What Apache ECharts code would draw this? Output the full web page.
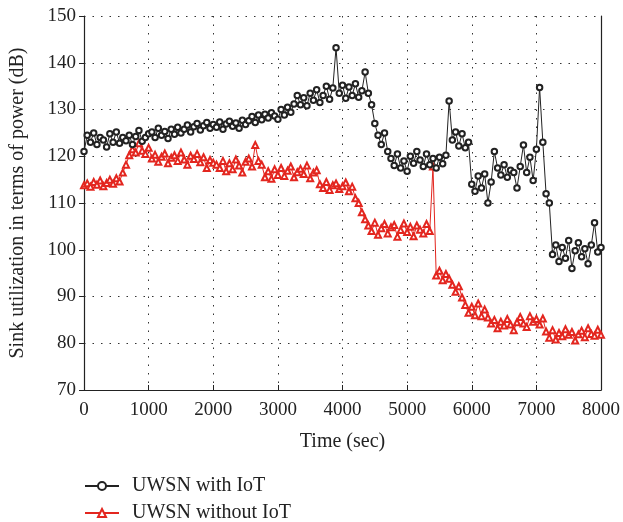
<!DOCTYPE html>
<html>
<head>
<meta charset="utf-8">
<script src="https://cdn.jsdelivr.net/npm/echarts@6/dist/echarts.min.js"></script>
<style>html,body{margin:0;padding:0;background:#fff}#c{width:623px;height:522px}</style>
</head>
<body>
<div id="c"></div>
<script>
// Sampling times (sec)
var timeSec = [0,50,100,150,200,250,300,350,400,450,500,550,600,650,700,750,800,850,900,950,
1000,1050,1100,1150,1200,1250,1300,1350,1400,1450,1500,1550,1600,1650,1700,1750,1800,1850,1900,1950,
2000,2050,2100,2150,2200,2250,2300,2350,2400,2450,2500,2550,2600,2650,2700,2750,2800,2850,2900,2950,
3000,3050,3100,3150,3200,3250,3300,3350,3400,3450,3500,3550,3600,3650,3700,3750,3800,3850,3900,3950,
4000,4050,4100,4150,4200,4250,4300,4350,4400,4450,4500,4550,4600,4650,4700,4750,4800,4850,4900,4950,
5000,5050,5100,5150,5200,5250,5300,5350,5400,5450,5500,5550,5600,5650,5700,5750,5800,5850,5900,5950,
6000,6050,6100,6150,6200,6250,6300,6350,6400,6450,6500,6550,6600,6650,6700,6750,6800,6850,6900,6950,
7000,7050,7100,7150,7200,7250,7300,7350,7400,7450,7500,7550,7600,7650,7700,7750,7800,7850,7900,7950,8000];

// UWSN with IoT (dB)
var withIoT = [121,124.5,123,125,122.5,124,123.5,122,124.8,123,125.2,122.8,124,123.3,
124.5,122.5,124.2,125.5,123.2,124,124.8,
125.2,124,126,124.5,125.3,123.8,125.8,124.7,126.2,125,
125.8,126.7,125.2,126.3,127,125.6,126.5,127.2,126,126.8,
126.2,127.3,125.8,126.9,127.5,126.4,127.1,126,127.7,126.8,
127.6,128.5,127.2,128.8,127.8,129,128.2,129.3,128.6,127.9,
130,128.8,130.5,129.4,131.2,133,
131,132.5,130.8,133.5,132,134.2,131.5,133,135,132.2,134.6,
143.2,
133.5,135.2,132.4,134.8,133,135.5,132.6,134,
138,
133.5,131,
127,124.5,122.5,125,
121,119.5,118,120.5,117.5,119,116.8,
120,118.5,121,119.2,117.8,120.5,118.2,119.5,
117.5,119.8,118.4,120.2,
131.8,
123.5,125.2,122.2,124.8,121.8,123,
114,112.5,115.8,113.2,116.2,110,114.5,
121,
117.5,116,118.2,115.5,117,116.5,113.2,117.8,
122.4,
116.5,119.8,114.8,121.5,
134.7,
123,
112,110,
99,
101,97.5,100.5,98.2,102,96,99.8,101.5,98.5,100.2,97,101,105.8,99.5,100.5];

// UWSN without IoT (dB)
var withoutIoT = [113.8,114.2,113.5,114.5,113.9,114.8,113.6,114.3,115,114.1,115.3,114.6,
116.5,118.2,
120.2,121.5,120.8,122.8,121.2,120.5,121.8,
119.5,120.3,118.8,119.9,120.6,118.5,119.7,120.2,119,120.8,119.3,118.2,120.1,119.4,120.5,118.7,119.8,117.5,119.2,118.6,
118.2,117.5,119,116.8,118.5,117.2,119.3,118,116.5,118.8,119.5,117.8,122.4,119,118.2,
115.5,116.8,115.2,117.2,116,117.5,115.8,116.9,117.8,115.5,116.6,117.3,116.2,118,115.3,116.5,117,
114,113.2,114.5,112.8,113.8,114.2,113,113.6,114.4,112.5,113.5,111,
110,108,106.5,
105.2,104,105.8,103.2,104.6,105.5,103.5,104.8,105.3,102.8,104.2,105.6,103.8,104.9,102.9,105.2,104.3,103.5,105.5,104,
117.8,
94.5,95.5,93.5,94.8,93.8,
92.5,91,92.2,89.8,
88.2,86.5,87.8,86,88.5,85.8,87.2,
85.5,84.2,85,83.2,84.6,83.8,85.2,84,82.8,84.5,
85.6,84.2,83.5,85.8,84.6,85.2,84,85.3,
82.5,81.2,82.8,80.8,82.2,81.5,83,81.8,82.4,80.6,81.9,82.7,81.3,83.2,82,81.6,82.9,81.8];

var seriesNames = ['UWSN with IoT', 'UWSN without IoT'];
var xTitle = 'Time (sec)';
var yTitle = 'Sink utilization in terms of power (dB)';

function pairs(vals){ return vals.map(function(v,i){ return [timeSec[i], v]; }); }

var FONT = '"Liberation Serif", "DejaVu Serif", serif';
var chart = echarts.init(document.getElementById('c'), null, {renderer:'canvas'});
chart.setOption({
  animation: false,
  backgroundColor: '#fff',
  grid: {left: 84, right: 20, top: 16, bottom: 132, containLabel: false},
  legend: {
    orient: 'vertical', left: 84, top: 476, padding: 0, height: 60,
    itemWidth: 34, itemHeight: 10, itemGap: 7,
    textStyle: {fontFamily: FONT, fontSize: 20, color: '#222', padding: [0,0,0,8]},
    data: seriesNames
  },
  xAxis: {
    type: 'value', min: 0, max: 8000, interval: 1000,
    name: xTitle, nameLocation: 'middle', nameGap: 42,
    nameTextStyle: {fontFamily: FONT, fontSize: 20, color: '#222'},
    axisLine: {show: true, lineStyle: {color: '#222', width: 1.2}},
    axisTick: {show: true, inside: true, length: 5, lineStyle: {color: '#222'}},
    axisLabel: {fontFamily: FONT, fontSize: 19, color: '#222', margin: 11,
      formatter: function(v){ return String(v); }},
    splitLine: {show: true, lineStyle: {color: '#333', type: [1.5, 7], width: 1}}
  },
  yAxis: [{
    type: 'value', min: 70, max: 150, interval: 10,
    name: yTitle, nameLocation: 'middle', nameGap: 56, nameRotate: 90,
    nameTextStyle: {fontFamily: FONT, fontSize: 20, color: '#222'},
    axisLine: {show: true, lineStyle: {color: '#222', width: 1.2}},
    axisTick: {show: true, inside: false, length: 5, lineStyle: {color: '#222'}},
    axisLabel: {fontFamily: FONT, fontSize: 19, color: '#222', margin: 8},
    splitLine: {show: true, lineStyle: {color: '#333', type: [1.5, 7], width: 1}}
  }, {
    type: 'value', min: 70, max: 150, interval: 10, position: 'right',
    axisLine: {show: true, lineStyle: {color: '#222', width: 1.2}},
    axisTick: {show: false}, axisLabel: {show: false}, splitLine: {show: false}
  }],
  series: [{
    name: seriesNames[0], type: 'line', data: pairs(withIoT),
    symbol: 'emptyCircle', symbolSize: 5.5, showAllSymbol: true,
    lineStyle: {color: '#222', width: 1},
    itemStyle: {color: '#222', borderColor: '#222', borderWidth: 1},
    color: '#222', z: 3
  }, {
    name: seriesNames[1], type: 'line', data: pairs(withoutIoT),
    symbol: 'emptyTriangle', symbolSize: 6, showAllSymbol: true,
    lineStyle: {color: '#e3261f', width: 1},
    itemStyle: {color: '#e3261f', borderColor: '#e3261f', borderWidth: 1.3},
    color: '#e3261f', z: 2
  }]
});
</script>
</body>
</html>
